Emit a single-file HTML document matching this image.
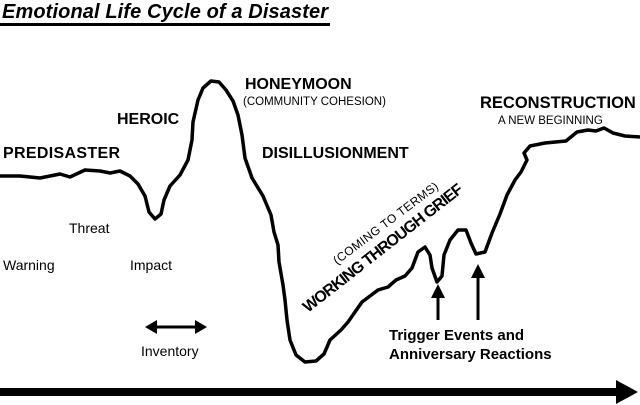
<!DOCTYPE html>
<html><head><meta charset="utf-8"><style>
html,body{margin:0;padding:0;background:#fff;}
body{width:640px;height:405px;overflow:hidden;}
svg{display:block;font-family:"Liberation Sans",Arial,sans-serif;}
</style></head><body>
<svg width="640" height="405" viewBox="0 0 640 405">
<text x="2" y="18" font-size="20" font-weight="bold" font-style="italic" fill="#000" textLength="326">Emotional Life Cycle of a Disaster</text>
<rect x="0" y="23" width="330" height="3" fill="#000"/>
<path d="M0,176 L20,176 L40,178 L60,174 L70,177 L85,170 L100,171 L110,173 L120,171 L130,176 L138,184 L145,196 L149,212 L155,219 L161,214 L164,200 L170,186 L180,175 L188,160 L192,140 L193,122 L198,100 L203,88 L211,81 L219,82 L226,90 L233,101 L238,115 L242,135 L245,158 L252,178 L263,196 L271,215 L274,232 L278,245 L279,262 L283,285 L285,300 L287,320 L290,340 L296,355 L305,362 L316,361 L324,354 L330,340 L341,330 L348,322 L355,312 L362,302 L370,296 L378,290 L388,287 L396,280 L405,276 L412,268 L418,252 L425,247 L430,255 L432,268 L437,282 L442,276 L444,255 L450,240 L458,230 L466,230 L471,243 L476,254 L485,252 L492,233 L500,214 L507,195 L515,180 L521,172 L527,160 L524,153 L530,146 L545,143 L566,141 L577,132 L588,130 L596,131 L604,128 L613,133 L625,136 L640,137" fill="none" stroke="#000" stroke-width="3.5" stroke-linejoin="round"/>
<text x="3" y="158" font-size="16" font-weight="bold" textLength="117">PREDISASTER</text>
<text x="117" y="124" font-size="16" font-weight="bold">HEROIC</text>
<text x="245" y="89" font-size="16" font-weight="bold">HONEYMOON</text>
<text x="243" y="105" font-size="11.5">(COMMUNITY COHESION)</text>
<text x="262" y="158" font-size="16" font-weight="bold">DISILLUSIONMENT</text>
<text x="480" y="108" font-size="16.5" font-weight="bold">RECONSTRUCTION</text>
<text x="498" y="124" font-size="11.5">A NEW BEGINNING</text>
<text x="69" y="233" font-size="14">Threat</text>
<text x="3" y="270" font-size="14">Warning</text>
<text x="130" y="270" font-size="14">Impact</text>
<text x="141" y="356" font-size="14">Inventory</text>
<line x1="152" y1="327" x2="198" y2="327" stroke="#000" stroke-width="3"/>
<polygon points="145,327 157,320 157,334" fill="#000"/>
<polygon points="207,327 195,320 195,334" fill="#000"/>
<text transform="translate(308,313) rotate(-38)" font-size="16" font-weight="bold" textLength="198">WORKING THROUGH GRIEF</text>
<text transform="translate(337,265) rotate(-37)" font-size="12" textLength="128">(COMING TO TERMS)</text>
<line x1="438" y1="296" x2="438" y2="320" stroke="#000" stroke-width="3"/>
<polygon points="438,284 431,298 445,298" fill="#000"/>
<line x1="478" y1="276" x2="478" y2="320" stroke="#000" stroke-width="3"/>
<polygon points="478,264 471,278 485,278" fill="#000"/>
<text x="389" y="340" font-size="15" font-weight="bold">Trigger Events and</text>
<text x="389" y="359" font-size="15" font-weight="bold">Anniversary Reactions</text>
<rect x="0" y="388" width="620" height="8" fill="#000"/>
<polygon points="638,392 616,380 616,404" fill="#000"/>
</svg>
</body></html>
